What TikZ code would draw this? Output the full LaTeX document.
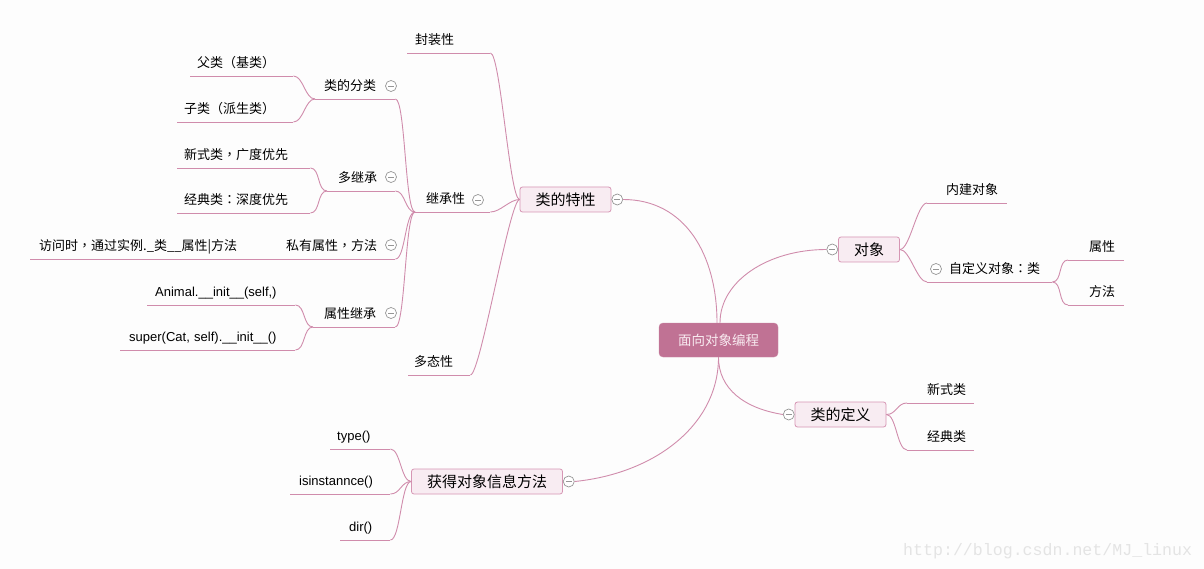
\documentclass[tikz,border=0pt]{standalone}
\usepackage{fontspec}
\setmainfont{Noto Sans CJK SC}
\newfontfamily\latinfont{Liberation Sans}
\newfontfamily\puncfont{Noto Sans CJK TC}
\newfontfamily\wmfont{Liberation Mono}
\usetikzlibrary{positioning}
\definecolor{bgc}{RGB}{253,253,253}
\definecolor{linkc}{RGB}{208,140,172}
\definecolor{boxc}{RGB}{248,236,242}
\definecolor{boxline}{RGB}{214,150,180}
\definecolor{rootc}{RGB}{192,114,148}
\definecolor{roottext}{RGB}{248,234,240}
\definecolor{foldc}{RGB}{150,150,150}
\definecolor{wmc}{RGB}{228,228,228}
\newcommand{\cpunc}[1]{{\puncfont #1}}

\begin{document}
\begin{tikzpicture}[x=1pt,y=-1pt,
    link/.style={draw=linkc,line width=0.9pt},
    lbranch/.style={to path={.. controls +(-10,0) and +(10,0) .. (\tikztotarget)}},
    rbranch/.style={to path={.. controls +(10,0) and +(-10,0) .. (\tikztotarget)}},
    root/.style={rectangle,rounded corners=4pt,fill=rootc,draw=rootc!85!white,text=roottext,inner xsep=19pt,minimum height=34pt,font=\fontsize{13.5}{16}\selectfont},
    main node/.style={rectangle,rounded corners=2.5pt,fill=boxc,draw=boxline,line width=0.8pt,inner xsep=15.5pt,minimum height=25pt,font=\fontsize{15}{18}\selectfont},
    sub/.style 2 args={anchor=south west,inner xsep=0pt,inner ysep=5pt,text width=#1pt,align=left,text height=9pt,text depth=3pt,font=\fontsize{13}{15}\selectfont,execute at begin node={\hspace*{#2pt}}},
    latin/.style={font=\latinfont\fontsize{13}{15}\selectfont},
    fold/.style={circle,draw=foldc,fill=white,line width=0.7pt,minimum size=11pt,inner sep=0pt,
      path picture={\draw[foldc,line width=0.7pt] ([xshift=2.5pt]path picture bounding box.west) -- ([xshift=-2.5pt]path picture bounding box.east);}},
    wmark/.style={anchor=base west,inner sep=0pt,text=wmc,font=\wmfont\fontsize{16.6}{18}\selectfont}]
    \fill[bgc] (0,0) rectangle (1204,569);
    \useasboundingbox (0,0) rectangle (1204,569);

    % root and main topics
    \node[root] (ct) at (718.5,340) {面向对象编程};
    \node[main node] (tx) at (565.5,199.5) {类的特性};
    \node[main node] (dx) at (869,249.5) {对象};
    \node[main node] (dy) at (840.5,414.5) {类的定义};
    \node[main node] (hd) at (487,481.5) {获得对象信息方法};
    \node[fold] (txf) [right=0pt of tx] {};
    \node[fold] (dxf) [left=0pt of dx] {};
    \node[fold] (dyf) [left=0pt of dy] {};
    \node[fold] (hdf) [right=0pt of hd] {};

    % 类的特性
    \node[sub={83}{8}] (fzx) at (407,53) {封装性};
    \node[sub={75}{11}] (jcx) at (415,212) {继承性};
    \node[sub={62}{6}] (dtx) at (408,375) {多态性};
    \node[sub={80}{9}] (lfl) at (315,99) {类的分类};
    \node[sub={103}{7}] (fl) at (190,76) {父类（基类）};
    \node[sub={116}{7}] (zl) at (177,122) {子类（派生类）};
    \node[sub={68}{11}] (djc) at (327,191) {多继承};
    \node[sub={133}{7}] (xsl) at (177,168) {新式类\cpunc{，}广度优先};
    \node[sub={133}{7}] (jdl) at (177,213) {经典类\cpunc{：}深度优先};
    \node[sub={118}{9}] (sy) at (277,259) {私有属性\cpunc{，}方法};
    \node[sub={247}{9}] (fw) at (30,259) {访问时\cpunc{，}通过实例.\_类\_\_属性|方法};
    \node[sub={82}{11}] (sxjc) at (313,327) {属性继承};
    \node[sub={148}{8},latin] (anm) at (147,305) {Animal.\_\_init\_\_(self,)};
    \node[sub={175}{9},latin] (spr) at (120,350) {super(Cat, self).\_\_init\_\_()};
    \node[fold] (jcxf) at (478,200) {};
    \node[fold] (lflf) at (391,86) {};
    \node[fold] (djcf) at (391,177) {};
    \node[fold] (syf) at (391,245) {};
    \node[fold] (sxjcf) at (391,313) {};

    % 对象
    \node[sub={80}{19}] (njdx) at (927,203) {内建对象};
    \node[sub={125}{22}] (zdy) at (927,282) {自定义对象\cpunc{：}类};
    \node[sub={56}{21}] (sx) at (1068,260) {属性};
    \node[sub={56}{21}] (ff) at (1068,305) {方法};
    \node[fold] (zdyf) at (936,269) {};

    % 类的定义
    \node[sub={67}{20}] (xsl2) at (907,403) {新式类};
    \node[sub={67}{20}] (jdl2) at (907,450) {经典类};

    % 获得对象信息方法
    \node[sub={60}{7},latin] (tp) at (330,449) {type()};
    \node[sub={100}{9},latin] (isi) at (290,494) {isinstannce()};
    \node[sub={50}{9},latin] (dr) at (340,540) {dir()};

    \foreach \n in {fzx,jcx,dtx,lfl,fl,zl,djc,xsl,jdl,sy,fw,sxjc,anm,spr,njdx,zdy,sx,ff,xsl2,jdl2,tp,isi,dr}
        \draw[link] (\n.south west) -- (\n.south east);

    \draw[link] ([xshift=-1.5pt]ct.north) .. controls +(0,-68) and +(62,0) .. (txf.east);
    \draw[link] ([xshift=1.5pt]ct.north) .. controls +(0,-42) and +(-58,0) .. (dxf.west);
    \draw[link] (ct.south) .. controls +(0,32) and +(-38,-6) .. (dyf.west);
    \draw[link] (ct.south) .. controls +(0,68) and +(80,-8) .. (hdf.east);

    \path[link] (tx.west) edge[lbranch] (fzx.south east) edge[lbranch] (jcx.south east) edge[lbranch] (dtx.south east);
    \path[link] (jcx.south west) edge[lbranch] (lfl.south east) edge[lbranch] (djc.south east)
        edge[lbranch] (sy.south east) edge[lbranch] (sxjc.south east);
    \path[link] (lfl.south west) edge[lbranch] (fl.south east) edge[lbranch] (zl.south east);
    \path[link] (djc.south west) edge[lbranch] (xsl.south east) edge[lbranch] (jdl.south east);
    \path[link] (sy.south west) edge[lbranch] (fw.south east);
    \path[link] (sxjc.south west) edge[lbranch] (anm.south east) edge[lbranch] (spr.south east);
    \path[link] (dx.east) edge[rbranch] (njdx.south west) edge[rbranch] (zdy.south west);
    \path[link] (zdy.south east) edge[rbranch] (sx.south west) edge[rbranch] (ff.south west);
    \path[link] (dy.east) edge[rbranch] (xsl2.south west) edge[rbranch] (jdl2.south west);
    \path[link] (hd.west) edge[lbranch] (tp.south east) edge[lbranch] (isi.south east) edge[lbranch] (dr.south east);

    \node[wmark] (wm) at (903,555) {http://blog.csdn.net/MJ\_linux};
\end{tikzpicture}
\end{document}
